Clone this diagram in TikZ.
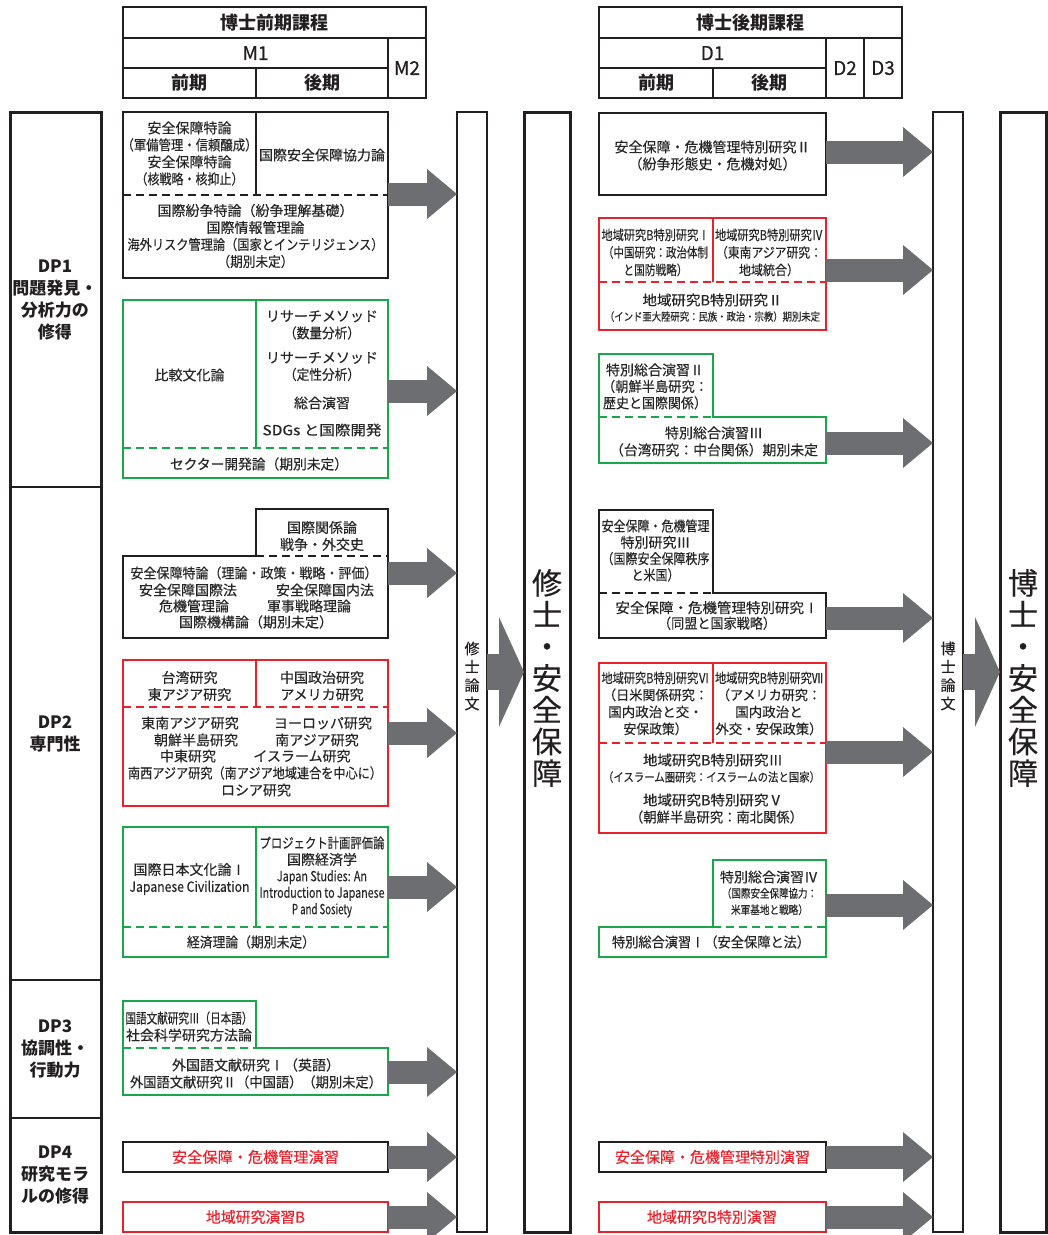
\documentclass[tikz,border=0pt]{standalone}
\usepackage{fontspec}
\setmainfont{Noto Sans CJK JP}
\newfontfamily\bodyfont{Noto Sans CJK JP}[FakeBold=0.35]
\usepackage{graphicx}
\usetikzlibrary{arrows.meta}
\definecolor{kline}{HTML}{231F20}
\definecolor{jgreen}{HTML}{1AA64A}
\definecolor{jred}{HTML}{E8212B}
\definecolor{agray}{HTML}{6D6E71}
\definecolor{tgray}{HTML}{262626}
\newsavebox\fitbox
\newlength\fitlen
\newcommand\fitw[2]{\sbox\fitbox{#2}\fitlen=\wd\fitbox\pgfmathsetmacro\fitr{#1/\the\fitlen}\scalebox{\fitr}[1]{\usebox\fitbox}}
\tikzset{
 hdr/.style={draw=kline, line width=1.6pt},
 kbox/.style={draw=kline, line width=2.2pt},
 gbox/.style={draw=jgreen, line width=2pt},
 rbox/.style={draw=jred, line width=2pt},
 kdash/.style={kbox, dash pattern=on 8pt off 5pt},
 gdash/.style={gbox, dash pattern=on 8pt off 5pt},
 rdash/.style={rbox, dash pattern=on 8pt off 5pt},
 txt/.style={font=\bodyfont\fontsize{14}{17}\selectfont, text=tgray, align=center, inner sep=0pt},
 rtxt/.style={txt, text=jred, font=\bodyfont\fontsize{15}{17}\selectfont},
 htxt/.style={font=\bodyfont\fontsize{19}{20}\selectfont, text=kline, inner sep=0pt},
 hbtxt/.style={htxt, font=\fontsize{18}{20}\selectfont\bfseries},
 dptxt/.style={font=\fontsize{17}{22}\selectfont\bfseries, text=kline, align=center, inner sep=0pt},
 garr/.style={draw=agray, line width=23pt, -{Triangle[length=30pt,width=50pt,line width=0pt]}},
 barr/.style={draw=agray, line width=36pt, -{Triangle[length=25pt,width=110pt,line width=0pt]}},
 thesisbar/.style={draw=kline, line width=1.3pt, minimum width=30pt, minimum height=1120pt, anchor=north west, inner sep=0pt, outer sep=0pt},
 finalbar/.style={thesisbar, line width=3pt, minimum width=46pt},
 vtxt/.style={font=\bodyfont\fontsize{15}{18.3}\selectfont, text=kline, align=center, inner sep=0pt},
 bigvtxt/.style={font=\bodyfont\fontsize{30}{31.7}\selectfont, text=kline, align=center, inner sep=0pt},
}
\begin{document}
\begin{tikzpicture}[x=1pt,y=-1pt]
\useasboundingbox (0,0) rectangle (1048,1235);
% ---------- headers
\draw[hdr] (123,7) rectangle (426,98);
\draw[hdr] (123,38) -- (426,38);
\draw[hdr] (123,68) -- (388,68);
\draw[hdr] (388,38) -- (388,98);
\draw[hdr] (256,68) -- (256,98);
\node[hbtxt] (hL) at (274.5,22.5) {博士前期課程};
\node[htxt] (hM1) at (255.5,53) {M1};
\node[htxt] (hM2) at (407,68) {M2};
\node[hbtxt] (hLz) at (189.5,83) {前期};
\node[hbtxt] (hLk) at (322,83) {後期};
\draw[hdr] (599,7) rectangle (902,98);
\draw[hdr] (599,38) -- (902,38);
\draw[hdr] (599,68) -- (826,68);
\draw[hdr] (826,38) -- (826,98);
\draw[hdr] (864,38) -- (864,98);
\draw[hdr] (713,68) -- (713,98);
\node[hbtxt] (hR) at (750.5,22.5) {博士後期課程};
\node[htxt] (hD1) at (712.5,53) {D1};
\node[htxt] (hD2) at (845,68) {D2};
\node[htxt] (hD3) at (883,68) {D3};
\node[hbtxt] (hRz) at (656,83) {前期};
\node[hbtxt] (hRk) at (769.5,83) {後期};
% ---------- DP column
\draw[draw=kline, line width=3pt] (10,112) rectangle (101,1232);
\draw[draw=kline, line width=1.5pt] (10,487) -- (101,487);
\draw[draw=kline, line width=1.5pt] (10,980) -- (101,980);
\draw[draw=kline, line width=1.5pt] (10,1118) -- (101,1118);
\node[dptxt] (dp1) at (55,300) {DP1\\問題発見・\\分析力の\\修得};
\node[dptxt] (dp2) at (55,733.5) {DP2\\専門性};
\node[dptxt] (dp3) at (55,1049.5) {DP3\\協調性・\\行動力};
\node[dptxt] (dp4) at (55,1174.5) {DP4\\研究モラ\\ルの修得};
% ---------- bars
\node[thesisbar] (MB) at (457,112) {};
\node[vtxt] (MBt) at (472,676) {修\\士\\論\\文};
\node[finalbar] (MS) at (524,112) {};
\node[bigvtxt] (MSt) at (547,678) {修\\士\\・\\安\\全\\保\\障};
\node[thesisbar] (DB) at (933,112) {};
\node[vtxt] (DBt) at (948,676) {博\\士\\論\\文};
\node[finalbar] (DS) at (1000,112) {};
\node[bigvtxt] (DSt) at (1023,678) {博\\士\\・\\安\\全\\保\\障};
\draw[barr] (MB.east) -- (MS.west);
\draw[barr] (DB.east) -- (DS.west);
% ---------- left box 1
\draw[kbox] (123,112) rectangle (388,278);
\draw[kbox] (256,112) -- (256,195);
\draw[kdash] (123,195) -- (388,195);
\node[txt] (L1a) at (189.5,153.5) {安全保障特論\\\fitw{136}{（軍備管理・信頼醸成）}\\安全保障特論\\\fitw{108}{（核戦略・核抑止）}};
\node[txt] (L1b) at (322,155) {国際安全保障協力論};
\node[txt] (L1c) at (255.5,236) {国際紛争特論（紛争理解基礎）\\国際情報管理論\\\fitw{256}{海外リスク管理論（国家とインテリジェンス）}\\\fitw{76}{（期別未定）}};
\coordinate (A1) at (388,194);
% ---------- left box 2
\draw[gbox] (123,300) rectangle (388,478);
\draw[gbox] (256,300) -- (256,448);
\draw[gdash] (123,448) -- (388,448);
\node[txt] (L2a) at (189.5,375) {比較文化論};
\node[txt] (L2b) at (322,325) {リサーチメソッド\\\fitw{76}{（数量分析）}};
\node[txt] (L2c) at (322,366.5) {リサーチメソッド\\\fitw{76}{（定性分析）}};
\node[txt] (L2d) at (322,403) {総合演習};
\node[txt] (L2e) at (322,430) {\fitw{119}{SDGs と国際開発}};
\node[txt] (L2f) at (259,464) {\fitw{178}{セクター開発論（期別未定）}};
\coordinate (A2) at (388,391);
% ---------- left box 3
\draw[kbox] (123,556) -- (256,556) -- (256,509) -- (388,509) -- (388,638) -- (123,638) -- cycle;
\draw[kdash] (256,556) -- (388,556);
\node[txt] (L3a) at (322,536) {国際関係論\\戦争・外交史};
\node[txt] (L3b) at (254,573) {\fitw{247}{安全保障特論（理論・政策・戦略・評価）}};
\node[txt] (L3c) at (188,590) {安全保障国際法};
\node[txt] (L3d) at (325,590) {安全保障国内法};
\node[txt] (L3e) at (194,606) {危機管理論};
\node[txt] (L3f) at (309,606) {軍事戦略理論};
\node[txt] (L3g) at (256,622) {国際機構論（期別未定）};
\coordinate (A3) at (388,573);
% ---------- left box 4
\draw[rbox] (123,660) rectangle (388,806);
\draw[rbox] (256,660) -- (256,707);
\draw[rdash] (123,707) -- (388,707);
\node[txt] (L4a) at (189.5,686) {台湾研究\\東アジア研究};
\node[txt] (L4b) at (322,686) {中国政治研究\\アメリカ研究};
\node[txt] (L4c) at (190,723) {東南アジア研究};
\node[txt] (L4d) at (323,723) {ヨーロッパ研究};
\node[txt] (L4e) at (196,740) {朝鮮半島研究};
\node[txt] (L4f) at (317,740) {南アジア研究};
\node[txt] (L4g) at (188,756) {中東研究};
\node[txt] (L4h) at (302,756) {イスラーム研究};
\node[txt] (L4i) at (255,773) {\fitw{254}{南西アジア研究（南アジア地域連合を中心に）}};
\node[txt] (L4j) at (256,790) {ロシア研究};
\coordinate (A4) at (388,733);
% ---------- left box 5
\draw[gbox] (123,827) rectangle (388,957);
\draw[gbox] (256,827) -- (256,927);
\draw[gdash] (123,927) -- (388,927);
\node[txt] (L5a) at (189.5,879) {国際日本文化論Ⅰ\\\fitw{120}{Japanese Civilization}};
\node[txt, font=\bodyfont\fontsize{14}{16.5}\selectfont] (L5b) at (322,877) {\fitw{125}{プロジェクト計画評価論}\\国際経済学\\\fitw{90}{Japan Studies: An}\\\fitw{125}{Introduction to Japanese}\\\fitw{60}{P and Sosiety}};
\node[txt] (L5c) at (251,942) {\fitw{128}{経済理論（期別未定）}};
\coordinate (A5) at (388,887);
% ---------- left box 6
\draw[gbox] (123,1001) -- (256,1001) -- (256,1048) -- (388,1048) -- (388,1095) -- (123,1095) -- cycle;
\draw[gdash] (123,1048) -- (256,1048);
\node[txt] (L6a) at (189,1026.5) {\fitw{127}{国語文献研究Ⅲ（日本語）}\\社会科学研究方法論};
\node[txt] (L6b) at (256,1073.5) {外国語文献研究Ⅰ（英語）\\\fitw{252}{外国語文献研究Ⅱ（中国語）（期別未定）}};
\coordinate (A6) at (388,1072);
% ---------- left boxes 7, 8
\draw[kbox] (123,1142) rectangle (388,1172);
\node[rtxt] (L7) at (255.5,1157) {\fitw{167}{安全保障・危機管理演習}};
\coordinate (A7) at (388,1157);
\draw[rbox] (123,1202) rectangle (388,1232);
\node[rtxt] (L8) at (255.5,1217) {\fitw{99}{地域研究演習B}};
\coordinate (A8) at (388,1217);
% ---------- right box 1
\draw[kbox] (599,113) rectangle (826,195);
\node[txt] (R1a) at (712.5,155.5) {安全保障・危機管理特別研究Ⅱ\\（紛争形態史・危機対処）};
\coordinate (B1) at (826,152);
% ---------- right box 2
\draw[rbox] (599,218) rectangle (826,330);
\draw[rbox] (712.5,218) -- (712.5,282);
\draw[rdash] (599,282) -- (826,282);
\node[txt, font=\bodyfont\fontsize{13.5}{17.5}\selectfont] (R2a) at (655.5,252.5) {\fitw{108}{地域研究B特別研究Ⅰ}\\\fitw{105}{（中国研究：政治体制}\\\fitw{64}{と国防戦略）}};
\node[txt, font=\bodyfont\fontsize{13.5}{17.5}\selectfont] (R2b) at (769,252.5) {\fitw{108}{地域研究B特別研究Ⅳ}\\\fitw{106}{（東南アジア研究：}\\\fitw{60}{地域統合）}};
\node[txt] (R2c) at (712.5,300) {\fitw{140}{地域研究B特別研究Ⅱ}};
\node[txt, font=\bodyfont\fontsize{11}{13}\selectfont] (R2d) at (712.5,316.5) {\fitw{215}{（インド亜大陸研究：民族・政治・宗教）期別未定}};
\coordinate (B2) at (826,270);
% ---------- right box 3
\draw[gbox] (599,354) -- (713,354) -- (713,417) -- (826,417) -- (826,463) -- (599,463) -- cycle;
\draw[gdash] (599,417) -- (713,417);
\node[txt, font=\bodyfont\fontsize{14}{16.5}\selectfont] (R3a) at (655,386.5) {特別総合演習Ⅱ\\\fitw{106}{（朝鮮半島研究：}\\\fitw{104}{歴史と国際関係）}};
\node[txt] (R3b) at (714,441.5) {特別総合演習Ⅲ\\\fitw{208}{（台湾研究：中台関係）期別未定}};
\coordinate (B3) at (826,443);
% ---------- right box 4
\draw[kbox] (599,510) -- (713,510) -- (713,593) -- (826,593) -- (826,638) -- (599,638) -- cycle;
\draw[kdash] (599,593) -- (713,593);
\node[txt, font=\bodyfont\fontsize{14}{16.3}\selectfont] (R4a) at (655.5,550.5) {\fitw{108}{安全保障・危機管理}\\特別研究Ⅲ\\\fitw{108}{（国際安全保障秩序}\\\fitw{48}{と米国）}};
\node[txt, font=\bodyfont\fontsize{14}{15.5}\selectfont] (R4b) at (717,615.5) {\fitw{203}{安全保障・危機管理特別研究Ⅰ}\\\fitw{118}{（同盟と国家戦略）}};
\coordinate (B4) at (826,618);
% ---------- right box 5
\draw[rbox] (599,663) rectangle (826,833);
\draw[rbox] (713,663) -- (713,743);
\draw[rdash] (599,743) -- (826,743);
\node[txt, font=\bodyfont\fontsize{13.5}{17}\selectfont] (R5a) at (655.5,703.5) {\fitw{108}{地域研究B特別研究Ⅵ}\\\fitw{105}{（日米関係研究：}\\国内政治と交・\\\fitw{64}{安保政策）}};
\node[txt, font=\bodyfont\fontsize{13.5}{17}\selectfont] (R5b) at (769,703.5) {\fitw{108}{地域研究B特別研究Ⅶ}\\\fitw{104}{（アメリカ研究：}\\国内政治と\\\fitw{107}{外交・安保政策）}};
\node[txt] (R5c) at (713,760) {\fitw{140}{地域研究B特別研究Ⅲ}};
\node[txt, font=\bodyfont\fontsize{12}{14}\selectfont] (R5d) at (711.5,777) {\fitw{217}{（イスラーム圏研究：イスラームの法と国家）}};
\node[txt] (R5e) at (713,800) {\fitw{140}{地域研究B特別研究Ⅴ}};
\node[txt] (R5f) at (716.5,817) {\fitw{173}{（朝鮮半島研究：南北関係）}};
\coordinate (B5) at (826,752);
% ---------- right box 6
\draw[gbox] (713,860) -- (826,860) -- (826,957) -- (599,957) -- (599,927) -- (713,927) -- cycle;
\draw[gdash] (713,927) -- (826,927);
\node[txt] (R6a) at (769,877) {特別総合演習Ⅳ};
\node[txt, font=\bodyfont\fontsize{11.5}{16.5}\selectfont] (R6b) at (769.5,901.5) {\fitw{95}{（国際安全保障協力：}\\\fitw{77}{米軍基地と戦略）}};
\node[txt] (R6c) at (711,942) {\fitw{198}{特別総合演習Ⅰ（安全保障と法）}};
\coordinate (B6) at (826,905);
% ---------- right boxes 7, 8
\draw[kbox] (599,1142) rectangle (826,1172);
\node[rtxt] (R7) at (712.5,1157) {\fitw{195}{安全保障・危機管理特別演習}};
\coordinate (B7) at (826,1157);
\draw[rbox] (599,1202) rectangle (826,1232);
\node[rtxt] (R8) at (712,1217) {\fitw{130}{地域研究B特別演習}};
\coordinate (B8) at (826,1217);
% ---------- gray arrows
\foreach \a in {A1,A2,A3,A4,A5,A6,A7,A8} {\draw[garr] (\a) -- (\a -| MB.west);}
\foreach \b in {B1,B2,B3,B4,B5,B6,B7,B8} {\draw[garr] (\b) -- (\b -| DB.west);}
\end{tikzpicture}
\end{document}
